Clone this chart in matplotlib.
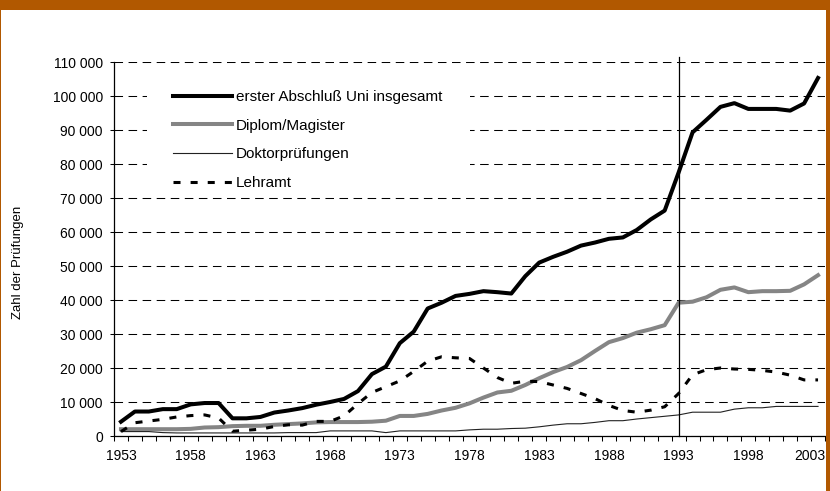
import matplotlib
matplotlib.use("Agg")
import matplotlib.pyplot as plt
from matplotlib.patches import Rectangle
from matplotlib.ticker import FuncFormatter
from matplotlib.transforms import ScaledTranslation

plt.rcParams['font.family'] = ['Liberation Sans', 'DejaVu Sans']

# Data: Prüfungen an Universitäten 1953-2003
years = list(range(1953, 2004))

erster = [4200, 7200, 7200, 7900, 7900, 9300, 9700, 9700, 5200, 5200,
          5600, 6900, 7500, 8200, 9200, 10000, 10900, 13200, 18200, 20400,
          27300, 30700, 37500, 39200, 41200, 41800, 42600, 42300, 41900, 47000,
          51000, 52700, 54200, 56000, 56900, 58000, 58400, 60600, 63700, 66300,
          77500, 89300, 93000, 96800, 97900, 96200, 96200, 96200, 95700, 97800, 105300]

diplom = [2000, 2000, 2000, 2000, 2000, 2100, 2500, 2600, 2900, 3000,
          3000, 3300, 3500, 3700, 4000, 4100, 4100, 4100, 4200, 4500,
          5900, 5900, 6500, 7500, 8300, 9600, 11300, 12800, 13300, 15000,
          17000, 18800, 20300, 22300, 25000, 27600, 28800, 30400, 31400, 32600,
          39200, 39500, 40800, 43000, 43700, 42300, 42600, 42600, 42700, 44600, 47300]

doktor = [1300, 1300, 1300, 1000, 900, 900, 900, 900, 900, 900,
          900, 900, 1000, 1000, 1000, 1500, 1500, 1500, 1500, 1000,
          1500, 1500, 1500, 1500, 1500, 1800, 2000, 2000, 2200, 2300,
          2700, 3200, 3600, 3600, 4000, 4500, 4500, 5000, 5400, 5800,
          6200, 7000, 7000, 7000, 7900, 8300, 8300, 8700, 8700, 8700, 8700]

lehramt = [1300, 3900, 4400, 4900, 5600, 6000, 6200, 5300, 1400, 1700,
           2000, 2800, 3300, 3200, 4300, 4300, 5900, 9500, 12800, 14500,
           16200, 19000, 22000, 23300, 23000, 22800, 20000, 17200, 15500, 16100,
           16000, 15000, 14000, 12500, 11000, 9000, 7500, 7000, 7600, 8600,
           12500, 18000, 19500, 20000, 19700, 19600, 19300, 18800, 17900, 16500, 16500]

labels = ["erster Abschluß Uni insgesamt", "Diplom/Magister", "Doktorprüfungen", "Lehramt"]
year_marker = 1993
orange = '#B15800'

fig = plt.figure(figsize=(8.3, 4.91), dpi=100)
fig.patch.set_facecolor(orange)
# white sheet inside the orange frame
fig.add_artist(Rectangle((1 / 830, 0), 825 / 830, 481 / 491, transform=fig.transFigure,
                         facecolor='white', edgecolor='none', zorder=-1))

ax = fig.add_axes([114 / 830, 55 / 491, 711 / 830, 374 / 491])
ax.set_facecolor('white')

ax.plot(years, erster, color='black', lw=2.9, solid_joinstyle='round', label=labels[0])
ax.plot(years, diplom, color='#858585', lw=2.9, solid_joinstyle='round', label=labels[1])
ax.plot(years, doktor, color='#222222', lw=0.8, label=labels[2])
ax.plot(years, lehramt, color='black', lw=2.2, linestyle=(0, (2.3, 3.3)),
        dash_capstyle='butt', label=labels[3])

ax.axvline(year_marker, ymin=0, ymax=1.013, color='black', lw=0.9, clip_on=False)

ax.set_xlim(years[0] - 0.5, years[-1] + 0.5)
ax.set_ylim(0, 110000)

# category axis: labels every 5 years, ticks between categories
ax.set_xticks(years[::5])
ax.set_xticklabels([str(y) for y in years[::5]])
ax.set_xticks([y - 0.5 for y in years] + [years[-1] + 0.5], minor=True)
ax.tick_params(axis='x', which='major', length=0, pad=9, labelsize=10)
ax.tick_params(axis='x', which='minor', length=3.6, width=0.75, direction='out')

# last label sits at the frame edge, nudge it inside
last = ax.get_xticklabels()[-1]
last.set_transform(last.get_transform() + ScaledTranslation(-8 / 100, 0, fig.dpi_scale_trans))

ax.set_yticks(range(0, 110001, 10000))
ax.yaxis.set_major_formatter(FuncFormatter(lambda v, p: f"{int(v):,}".replace(",", " ")))
ax.tick_params(axis='y', length=3, width=0.75, pad=5, labelsize=10)

ax.yaxis.grid(True, color='black', lw=0.75, linestyle=(0, (8.2, 5.3)))
ax.set_axisbelow(True)

for side in ['top', 'right']:
    ax.spines[side].set_visible(False)
for side in ['left', 'bottom']:
    ax.spines[side].set_linewidth(0.9)

ax.set_ylabel("Zahl der Prüfungen", fontsize=9.5)
ax.yaxis.set_label_coords(-0.127, 0.465)

# white box behind the legend hides the gridlines
ax.add_patch(Rectangle((0.0464, 0.652), 0.455, 0.287, transform=ax.transAxes,
                       facecolor='white', edgecolor='none', zorder=1))
ax.legend(loc='upper left', bbox_to_anchor=(0.083, 0.9243), frameon=False,
          borderpad=0, borderaxespad=0, handlelength=3.86, handletextpad=0.26,
          labelspacing=0.95, fontsize=11)

# orange strip on the right edge
fig.add_artist(Rectangle((826 / 830, 0), 4 / 830, 1, transform=fig.transFigure,
                         facecolor=orange, edgecolor='none', zorder=10))

fig.savefig("out.png", dpi=100, facecolor=fig.get_facecolor())
